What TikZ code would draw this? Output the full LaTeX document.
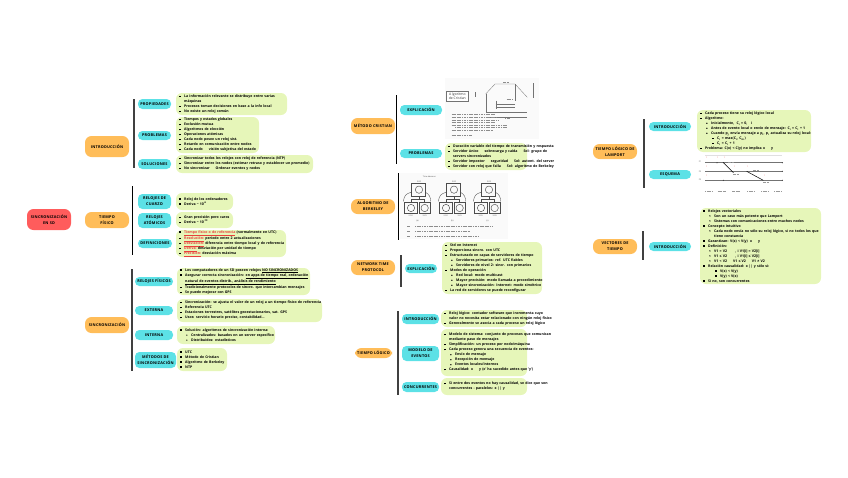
\documentclass[tikz,border=0pt]{standalone}
\usepackage{fontspec}
\setmainfont{Open Sans}
\newfontfamily\capsf[LetterSpace=6]{Open Sans}
\definecolor{gfill}{HTML}{E6F6B9}
\definecolor{bfill}{HTML}{5CE1E6}
\definecolor{ofill}{HTML}{FFBD59}
\definecolor{rfill}{HTML}{FF5C5C}
\definecolor{barc}{HTML}{404040}
\definecolor{tred}{HTML}{E8403C}
\newcommand{\bul}{\rule[0.5pt]{1.4pt}{1.4pt}}
\newcommand{\cir}{\raisebox{0.5pt}{\tikz\fill (0,0) circle (0.7pt);}}
\newcommand{\Ln}[1]{\noindent\hbox{#1}\par}
\newcommand{\Aa}[1]{\Ln{\makebox[5pt][l]{\bul}#1}}
\newcommand{\Ac}[1]{\Ln{\hspace{5pt}#1}}
\newcommand{\Bb}[1]{\Ln{\hspace{6pt}\makebox[5pt][l]{\cir}#1}}
\newcommand{\Bc}[1]{\Ln{\hspace{11pt}#1}}
\newcommand{\Cc}[1]{\Ln{\hspace{12pt}\makebox[5pt][l]{\bul}#1}}
\newcommand{\rt}[1]{\textcolor{tred}{\underline{#1}}}
\newcommand{\gp}{\hspace{6pt}}
\newcommand{\sub}[1]{\textsubscript{#1}}
\tikzset{
 orangebox/.style={fill=ofill,rounded corners=6.5pt,inner sep=0pt,align=center,font=\fontsize{3.8}{6}\selectfont\capsf\bfseries},
 redbox/.style={fill=rfill,rounded corners=6.5pt,inner sep=0pt,align=center,font=\fontsize{3.8}{6}\selectfont\capsf\bfseries},
 bluebox/.style={fill=bfill,rounded corners=4.4pt,inner sep=0pt,align=center,font=\fontsize{3.8}{6}\selectfont\capsf\bfseries},
 greenbox/.style={fill=gfill,rounded corners=6pt,inner ysep=0pt,inner xsep=3.2pt,font=\fontsize{3.5}{5}\selectfont\bfseries},
 bar/.style={draw=barc,line width=1.2pt},
 bar2/.style={draw=black,line width=1pt},
 pic/.style={fill=black!2,draw=none},
 thinl/.style={draw=black!55,line width=0.3pt},
 faint/.style={draw=black!45,line width=0.7pt,dash pattern=on 1.2pt off 0.5pt},
 tiny/.style={font=\fontsize{2}{2.4}\selectfont,inner sep=0pt,text=black!70},
}
\newcommand{\bx}[7]{\node[#1,minimum width={(#5-#3)*1pt},minimum height={(#6-#4)*1pt}] (#2) at ({(#3+#5)/2},{(#4+#6)/2}) {#7};}
\newcommand{\gb}[6]{\node[greenbox,text width={(#4-#2)*1pt-6.4pt},minimum height={(#5-#3)*1pt}] (#1) at ({(#2+#4)/2},{(#3+#5)/2}) {#6};}
\newcommand{\vb}[5]{\coordinate (#2a) at (#3,#4);\coordinate (#2b) at (#3,#5);\draw[#1] (#2a) -- (#2b);}
\begin{document}
\begin{tikzpicture}[x=1pt,y=-1pt]
\useasboundingbox (0,0) rectangle (848,477);
% ---- left column
\bx{redbox}{root}{27}{209}{71}{230}{SINCRONIZACIÓN\\EN SD}
\bx{orangebox}{intro}{85}{136}{129}{157}{INTRODUCCIÓN}
\vb{bar}{v1}{134}{99}{168}
\bx{bluebox}{prop}{138}{99}{171}{109}{PROPIEDADES}
\bx{bluebox}{prob}{138}{131}{171}{140}{PROBLEMAS}
\bx{bluebox}{sol}{138}{159}{171}{169}{SOLUCIONES}
\gb{g1}{176}{93}{287}{115}{\Aa{La información relevante se distribuye entre varias}\Ac{máquinas}\Aa{Procesos toman decisiones en base a la info local}\Aa{No existe un reloj común}}
\gb{g2}{176}{117}{259}{153}{\Aa{Tiempos y estados globales}\Aa{Exclusión mutua}\Aa{Algoritmos de elección}\Aa{Operaciones atómicas}\Aa{Cada nodo posee un reloj sist.}\Aa{Retardo en comunicación entre nodos}\Aa{Cada nodo\gp visión subjetiva del estado}}
\gb{g3}{176}{155}{313}{173}{\Aa{Sincronizar todos los relojes con reloj de referencia (NTP)}\Aa{Sincronizar entre los nodos (estimar retraso y establecer un promedio)}\Aa{No sincronizar\gp Ordenar eventos y nodos}}
\bx{orangebox}{tf}{85}{212}{129}{228}{TIEMPO\\FÍSICO}
\vb{bar2}{v2}{132.5}{186}{255}
\bx{bluebox}{cuarzo}{138}{194}{171}{209}{RELOJES DE\\CUARZO}
\bx{bluebox}{atom}{138}{213}{171}{228}{RELOJES\\ATÓMICOS}
\bx{bluebox}{defi}{138}{239}{172}{248}{DEFINICIONES}
\gb{g4}{176}{193}{233}{210}{\Aa{Reloj de los ordenadores}\Aa{Deriva \textasciitilde\ 10\textsuperscript{-6}}}
\gb{g5}{176}{212}{233}{228}{\Aa{Gran precisión pero caros}\Aa{Deriva \textasciitilde\ 10\textsuperscript{-13}}}
\gb{g6}{176}{230}{286}{257}{\Aa{\rt{Tiempo físico o de referencia} (normalmente en UTC)}\Aa{\rt{Resolución:} periodo entre 2 actualizaciones}\Aa{\rt{Desviación:} diferencia entre tiempo local y de referencia}\Aa{\rt{Deriva:} desviación por unidad de tiempo}\Aa{\rt{Precisión:} desviación máxima}}
\bx{orangebox}{sinc}{85}{317}{129}{333}{SINCRONIZACIÓN}
\vb{bar}{v3}{132}{269}{371}
\bx{bluebox}{fis}{135}{277}{173}{286}{RELOJES FÍSICOS}
\bx{bluebox}{ext}{135}{306}{173}{315}{EXTERNA}
\bx{bluebox}{inte}{135}{330}{173}{340}{INTERNA}
\bx{bluebox}{met}{135}{352}{176}{368}{MÉTODOS DE\\SINCRONIZACIÓN}
\gb{g7}{177}{268}{310}{295}{\Aa{Los computadores de un SD poseen relojes \underline{NO SINCRONIZADOS}}\Aa{Asegurar correcta sincronización: \underline{en apps de tiempo real, ordenación}}\Ac{\underline{natural de eventos distrib., análisis de rendimiento}}\Aa{Tradicionalmente protocolos de sincro. que intercambian mensajes}\Aa{Se puede mejorar con GPS}}
\gb{g8}{177}{299}{322}{322}{\Aa{Sincronización: se ajusta el valor de un reloj a un tiempo físico de referencia}\Aa{Referencia UTC}\Aa{Estaciones terrestres, satélites geoestacionarios, sat. GPS}\Aa{Usos: servicio horario preciso, contabilidad...}}
\gb{g9}{177}{326}{275}{344}{\Aa{Solución: algoritmos de sincronización interna:}\Bb{Centralizados: basados en un server específico}\Bb{Distribuidos: estadísticos}}
\gb{g10}{177}{348}{227}{371}{\Aa{UTC}\Aa{Método de Cristian}\Aa{Algoritmo de Berkeley}\Aa{NTP}}
% ---- middle column
\bx{orangebox}{cris}{351}{118}{395}{134}{MÉTODO CRISTIAN}
\vb{bar2}{v4}{396}{95}{164}
\bx{bluebox}{expc}{400}{105}{442}{115}{EXPLICACIÓN}
\bx{bluebox}{proc}{400}{149}{442}{158}{PROBLEMAS}
\begin{scope}[shift={(440,78)},x=0.3333pt,y=-0.3333pt]
 \fill[pic] (15,0) rectangle (297,183);
 \draw[thinl,fill=white,line width=0.45pt] (20,40) rectangle (85,70);
 \node[inner sep=0pt,align=center,font=\fontsize{3.4}{4.6}\selectfont,text=black!80] (crisname) at (52,55) {A lgoritmo\\de Cristian};
 \draw[thinl] (137,48) -- (165,18) -- (225,18) -- (262,58);
 \draw[thinl] (137,48) -- (137,102) -- (262,102);
 \draw[thinl] (225,18) -- (225,68);
 \draw[thinl] (167,78) -- (225,78);
 \draw[thinl] (167,88) -- (225,88);
 \draw[thinl] (167,68) -- (167,92);
 \draw[thinl] (137,118) -- (262,118);
 \draw[thinl] (105,42) -- (105,58);
 \draw[thinl] (280,15) -- (280,60);
 \foreach \xx/\yy/\ww in {15/108/130,15/118/135,15/128/140,15/133/130,15/143/165,25/148/155,15/158/125,15/172/60}{
   \draw[faint] (20+\xx,\yy) -- ++(\ww,0);
 }
 \draw[faint] (190,14) -- (208,14);
 \draw[faint] (200,65) -- (218,65);
 \draw[faint] (195,120) -- (210,120);
\end{scope}
\gb{g11}{445}{143}{527}{170}{\Aa{Duración variable del tiempo de transmisión y respuesta}\Aa{Servidor único\gp sobrecarga y caída\gp Sol: grupo de}\Ac{servers sincronizados}\Aa{Servidor impostor\gp seguridad\gp Sol: autent. del server}\Aa{Servidor con reloj que falla\gp Sol: algoritmo de Berkeley}}
\bx{orangebox}{berk}{351}{199}{395}{214}{ALGORITMO DE\\BERKELEY}
\vb{bar2}{v5}{398.5}{173}{240}
\begin{scope}[shift={(400,172)},x=0.3333pt,y=-0.3333pt]
 \fill[pic] (0,3) rectangle (325,200);
 \node[tiny] (td) at (88,15) {Time daemon};
 \foreach \dx/\a/\b/\c/\l in {0/3:00/2:50/3:25/(a),105/3:00/2:50/3:25/(b),210/3:05/3:05/3:05/(c)}{
   \begin{scope}[xshift=\dx*0.3333pt]
   \draw[line width=0.45pt,draw=black!70] (35,33) rectangle (75,72);
   \draw[line width=0.45pt,draw=black!70] (57,53) circle (11);
   \draw[line width=0.45pt,draw=black!70] (14,90) rectangle (52,125);
   \draw[line width=0.45pt,draw=black!70] (33,108) circle (11);
   \draw[line width=0.45pt,draw=black!70] (57,90) rectangle (90,125);
   \draw[line width=0.45pt,draw=black!70] (74,108) circle (11);
   \draw[line width=0.35pt,draw=black!70,rounded corners=3pt] (35,60) -- (15,68) -- (10,88);
   \draw[line width=0.35pt,draw=black!70,rounded corners=3pt] (75,60) -- (90,70) -- (92,88);
   \draw[line width=0.35pt,draw=black!70] (57,72) -- (57,82) -- (33,82) -- (33,90);
   \draw[line width=0.35pt,draw=black!70] (57,82) -- (74,82) -- (74,90);
   \node[tiny] at (57,29) {\a};
   \node[tiny] at (32,132) {\b};
   \node[tiny] at (74,132) {\c};
   \node[tiny] at (52,146) {\l};
   \end{scope}
 }
 \foreach \yy/\ww in {164/230,179/165,194/190}{
   \draw[faint] (22,\yy) -- ++(6,0);
   \draw[faint] (45,\yy) -- ++(\ww,0);
 }
\end{scope}
\bx{orangebox}{ntp}{351}{260}{395}{275}{NETWORK TIME\\PROTOCOL}
\vb{bar}{v6}{401}{255}{287}
\bx{bluebox}{expn}{405}{264}{437}{273}{EXPLICACIÓN}
\gb{g12}{442}{242}{542}{294}{\Aa{Std en Internet}\Aa{Proporciona sincro. con UTC}\Aa{Estructurado en capas de servidores de tiempo}\Bb{Servidores primarios: ref. UTC fiables}\Bb{Servidores de nivel 2: sincr. con primarios}\Aa{Modos de operación}\Bb{Red local: modo multicast}\Bb{Mayor precisión: modo llamada a procedimiento}\Bb{Mayor sincronización: Internet: modo simétrico}\Aa{La red de servidores se puede reconfigurar}}
\bx{orangebox}{log}{355}{348}{392}{358}{TIEMPO LÓGICO}
\vb{bar}{v7}{398}{311}{395}
\bx{bluebox}{intl}{402}{314}{439}{324}{INTRODUCCIÓN}
\bx{bluebox}{mod}{402}{346}{439}{361}{MODELO DE\\EVENTOS}
\bx{bluebox}{conc}{402}{382}{439}{392}{CONCURRENTES}
\gb{g13}{441}{310}{527}{327}{\Aa{Reloj lógico: contador software que incrementa cuyo}\Ac{valor no necesita estar relacionado con ningún reloj físico}\Aa{Generalmente se asocia a cada proceso un reloj lógico}}
\gb{g14}{441}{329}{527}{376}{\Aa{Modelo de sistema: conjunto de procesos que comunican}\Ac{mediante paso de mensajes}\Aa{Simplificación: un proceso por nodo/máquina}\Aa{Cada proceso genera una secuencia de eventos:}\Bb{Envío de mensaje}\Bb{Recepción de mensaje}\Bb{Eventos locales/internos}\Aa{Causalidad: x\gp y (x' ha sucedido antes que 'y')}}
\gb{g15}{441}{378}{527}{395}{\Aa{Si entre dos eventos no hay causalidad, se dice que son}\Ac{concurrentes - paralelos: x || y}}
% ---- right column
\bx{orangebox}{lam}{593}{144}{637}{159}{TIEMPO LÓGICO DE\\LAMPORT}
\vb{bar}{v8}{644}{119}{188}
\bx{bluebox}{intm}{649}{122}{691}{131}{INTRODUCCIÓN}
\bx{bluebox}{esq}{649}{170}{691}{179}{ESQUEMA}
\gb{g16}{697}{110}{811}{152}{\Aa{Cada proceso tiene su reloj lógico local}\Aa{Algoritmo:}\Bb{Inicialmente, \ C\sub{i} = 0, \ \ i}\Bb{Antes de evento local o envío de mensaje: C\sub{i} = C\sub{i} + 1}\Bb{Cuando p\sub{j} envía mensaje a p\sub{i}, p\sub{i} actualiza su reloj local:}\Cc{C\sub{i} = max(C\sub{i}, C\sub{m})}\Cc{C\sub{i} = C\sub{i} + 1}\Aa{Problema: C(x) < C(y) no implica x\gp y}}
\begin{scope}[shift={(695,152)},x=0.3333pt,y=-0.3333pt]
 \draw[draw=black!12,line width=0.8pt] (30,10) -- (262,10);
 \draw[draw=black!55,line width=0.7pt] (30,32) -- (262,32);
 \draw[draw=black!55,line width=0.7pt] (30,58) -- (262,58);
 \draw[draw=black!55,line width=0.7pt] (30,85) -- (262,85);
 \node[tiny] at (15,30) {P1};
 \node[tiny] at (15,58) {P2};
 \node[tiny] at (15,84) {P3};
 \foreach \xx/\yy in {35/17,67/17,88/17,35/44,118/44,35/72,157/44,208/72}{
   \node[tiny,text=tred] at (\xx,\yy) {1};
 }
 \foreach \xx/\yy in {66/32,85/32,262/32,262/58,262/85,85/85}{ \fill[black!75] (\xx,\yy) circle (2); }
 \coordinate (ma) at (85,32); \coordinate (mb) at (115,62);
 \coordinate (mc) at (155,58); \coordinate (md) at (205,85);
 \draw[line width=0.5pt] (ma) -- (mb);
 \draw[line width=0.5pt] (mc) -- (md);
 \foreach \xx in {30,68,112,156,198,237}{ \draw[faint,draw=black!40] (\xx,118) -- ++(24,0); }
 \foreach \xx/\yy in {100/30,115/68,175/54,205/92}{ \draw[faint,draw=black!40] (\xx,\yy) -- ++(18,0); }
\end{scope}
\bx{orangebox}{vec}{593}{239}{637}{254}{VECTORES DE\\TIEMPO}
\vb{bar}{v9}{643}{231}{260}
\bx{bluebox}{intv}{649}{242}{691}{251}{INTRODUCCIÓN}
\gb{g17}{700}{208}{821}{284}{\Aa{Relojes vectoriales}\Bb{Son un caso más potente que Lamport}\Bb{Sistemas con comunicaciones entre muchos nodos}\Aa{Concepto intuitivo}\Bb{Cada nodo envía no sólo su reloj lógico, si no todos los que}\Bc{tiene constancia}\Aa{Garantizan: V(x) < V(y) \ x\gp y}\Aa{Definición:}\Bb{V1 = V2\gp\ \ , i V1[i] = V2[i]}\Bb{V1 ≤ V2\gp\ \ , i V1[i] ≤ V2[i]}\Bb{V1 < V2\gp V1 ≤ V2\gp V1 ≠ V2}\Aa{Relación causalidad: x || y sólo si:}\Cc{V(x) < V(y)}\Cc{V(y) < V(x)}\Aa{Si no, son concurrentes}}
\end{tikzpicture}
\end{document}
